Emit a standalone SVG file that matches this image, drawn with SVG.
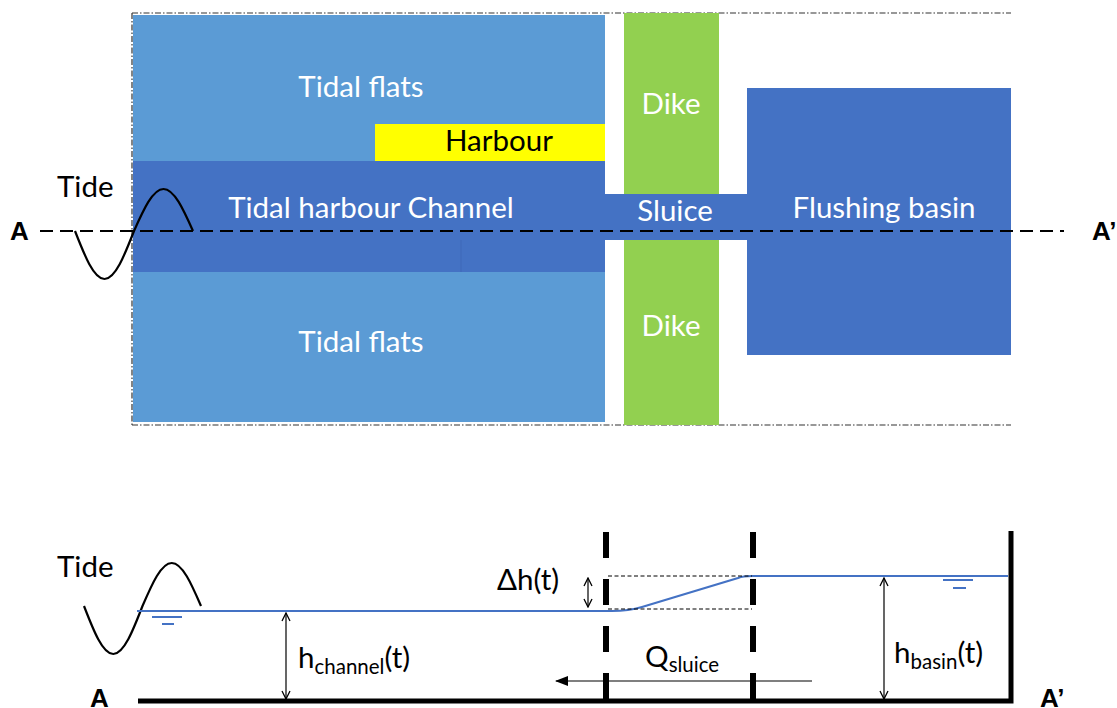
<svg xmlns="http://www.w3.org/2000/svg" width="1117" height="708" viewBox="0 0 1117 708">
  <style>
    .lbl { font-family: Lato, "Liberation Sans", sans-serif; font-size: 29.5px; }
    .w { fill: #ffffff; }
    .k { fill: #000000; }
    .bold { font-family: "Liberation Sans", Arial, sans-serif; font-weight: bold; font-size: 26px; fill: #000; }
    .flat { fill: #5B9BD5; }
    .chan { fill: #4472C4; }
    .wave { fill: none; stroke: #000; stroke-width: 2.2; }
    .water { fill: none; stroke: #4472C4; stroke-width: 2.2; }
    .dim { fill: none; stroke: #000; stroke-width: 1.2; }
    .thin-dash { fill: none; stroke: #000; stroke-width: 1; stroke-dasharray: 4 2.5; }
    .gate { fill: none; stroke: #000; stroke-width: 6; stroke-dasharray: 26 21; }
  </style>
  <defs>
    <marker id="open" markerWidth="10" markerHeight="10" refX="9" refY="5" orient="auto-start-reverse" markerUnits="userSpaceOnUse">
      <path d="M1,1 L9,5 L1,9" fill="none" stroke="#000" stroke-width="1.3"/>
    </marker>
    <marker id="solid" markerWidth="14" markerHeight="10" refX="12" refY="5" orient="auto" markerUnits="userSpaceOnUse">
      <path d="M0,0 L13,5 L0,10 Z" fill="#000"/>
    </marker>
  </defs>

  <!-- plan view -->
  <g id="plan-frame">
    <path d="M132,13 H1011 M132,13 V425 M132,425 H1011" fill="none" stroke="#333" stroke-width="1.2" stroke-dasharray="6 2 1.5 2"/>
  </g>
  <g id="tidal-flats-top">
    <rect class="flat" x="133" y="15" width="472" height="146"/>
    <text class="lbl w" x="361" y="97" text-anchor="middle">Tidal flats</text>
  </g>
  <g id="harbour">
    <rect x="375" y="124" width="230" height="37" fill="#FFFF00"/>
    <text class="lbl k" x="499" y="151" text-anchor="middle">Harbour</text>
  </g>
  <g id="channel">
    <rect class="chan" x="133" y="161" width="472" height="111"/>
    <line x1="461" y1="240" x2="461" y2="272" stroke="#3f69b8" stroke-width="1"/>
    <text class="lbl w" x="371" y="218" text-anchor="middle">Tidal harbour Channel</text>
  </g>
  <g id="tidal-flats-bottom">
    <rect class="flat" x="133" y="272" width="472" height="150"/>
    <text class="lbl w" x="361" y="352" text-anchor="middle">Tidal flats</text>
  </g>
  <g id="dike">
    <rect x="624" y="13" width="95" height="412" fill="#92D050"/>
    <text class="lbl w" x="671" y="114" text-anchor="middle">Dike</text>
    <text class="lbl w" x="671" y="336" text-anchor="middle">Dike</text>
  </g>
  <g id="sluice">
    <rect class="chan" x="605" y="194" width="143" height="46"/>
    <text class="lbl w" x="675" y="221" text-anchor="middle">Sluice</text>
  </g>
  <g id="flushing-basin">
    <rect class="chan" x="747" y="88" width="264" height="267"/>
    <text class="lbl w" x="884" y="218" text-anchor="middle">Flushing basin</text>
  </g>
  <g id="tide-plan">
    <text class="lbl k" x="57" y="197">Tide</text>
    <path class="wave" d="M75,231 C84.6,255.6 93.8,279 104.5,279 C115.2,279 124.4,255.6 134,231 C143.6,209.5 152.8,189 163.5,189 C174.2,189 183.4,209.5 193,231"/>
  </g>
  <g id="section-line">
    <line x1="40" y1="231" x2="1064" y2="231" stroke="#000" stroke-width="2.2" stroke-dasharray="13 7"/>
    <text class="bold" x="10" y="240">A</text>
    <text class="bold" x="1092" y="240">A’</text>
  </g>

  <!-- cross section -->
  <g id="section-bed">
    <path d="M138,701 H1011 V531" fill="none" stroke="#000" stroke-width="5"/>
    <text class="bold" x="90" y="707">A</text>
    <text class="bold" x="1040" y="707">A’</text>
  </g>
  <g id="tide-section">
    <text class="lbl k" x="57" y="577">Tide</text>
    <path class="wave" d="M84,606 C93.5,630.6 102.7,654 113.25,654 C123.8,654 133,630.6 142.5,606 C152,584 161.2,563 171.75,563 C182.3,563 191.5,584 201,606"/>
  </g>
  <g id="water-levels">
    <path class="water" d="M137,611 H612 C625,611 632,610 642,607 L738,578 C743,576 747,576 752,576 H1008"/>
    <path d="M152,617 H182 M162,624 H174 M943,580 H973 M953,588 H966" stroke="#4472C4" stroke-width="2.2"/>
  </g>
  <g id="sluice-gates">
    <line class="gate" x1="606" y1="532" x2="606" y2="701"/>
    <line class="gate" x1="753" y1="532" x2="753" y2="701"/>
    <path class="thin-dash" d="M608,576 H752 M608,609 H752"/>
  </g>
  <g id="connectors">
    <line class="dim" x1="286" y1="613" x2="286" y2="699" marker-start="url(#open)" marker-end="url(#open)"/>
    <line class="dim" x1="588" y1="578" x2="588" y2="607" marker-start="url(#open)" marker-end="url(#open)"/>
    <line class="dim" x1="884" y1="578" x2="884" y2="699" marker-start="url(#open)" marker-end="url(#open)"/>
    <line class="dim" x1="812" y1="681" x2="556" y2="681" marker-end="url(#solid)"/>
  </g>
  <g id="section-labels">
    <text class="lbl k" x="298" y="668">h<tspan font-size="20.5" dy="6">channel</tspan><tspan dy="-6">(t)</tspan></text>
    <text class="lbl k" x="497" y="590">Δh(t)</text>
    <text class="lbl k" x="645" y="667">Q<tspan font-size="20.5" dy="5">sluice</tspan></text>
    <text class="lbl k" x="894" y="663">h<tspan font-size="20.5" dy="6">basin</tspan><tspan dy="-6">(t)</tspan></text>
  </g>
</svg>
